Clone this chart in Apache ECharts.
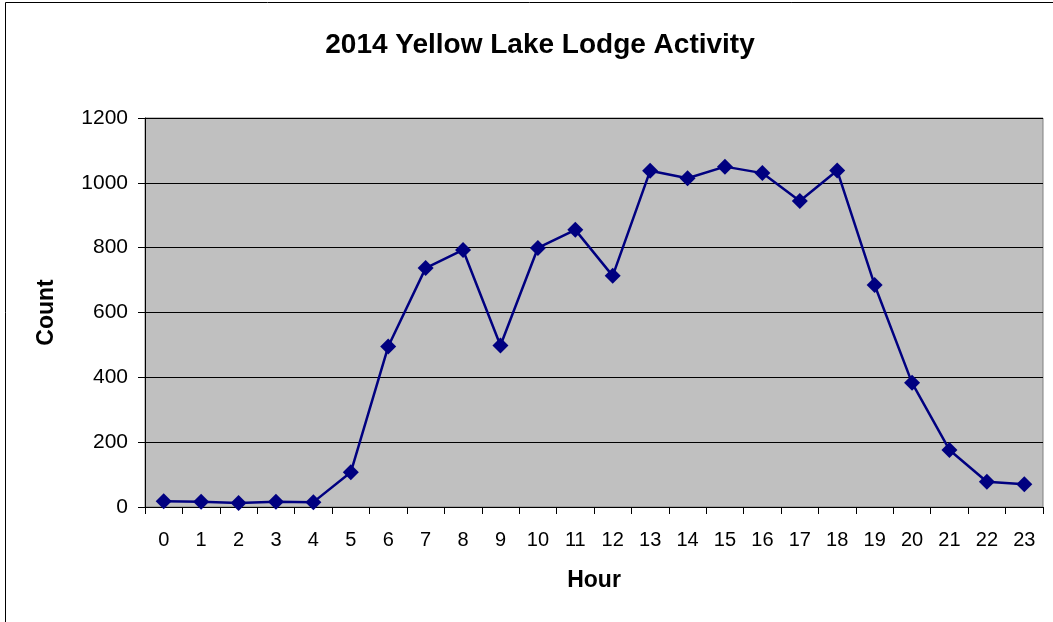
<!DOCTYPE html>
<html>
<head>
<meta charset="utf-8">
<script src="https://cdn.jsdelivr.net/npm/echarts@6/dist/echarts.min.js"></script>
<style>
  html, body { margin: 0; padding: 0; background: #fff; }
  #chart { width: 1053px; height: 622px; }
</style>
</head>
<body>
<div id="chart"></div>
<script>
// hours of the day
const hours = ["0","1","2","3","4","5","6","7","8","9","10","11","12","13","14","15","16","17","18","19","20","21","22","23"];
// activity count per hour
const counts = [18, 16, 12, 16, 15, 107, 495, 737, 793, 498, 799, 855, 713, 1037, 1014, 1050, 1030, 944, 1038, 685, 383, 176, 78, 70];
const yTicks = [0, 200, 400, 600, 800, 1000, 1200];

const font = "Liberation Sans, Arial, sans-serif";
const myChart = echarts.init(document.getElementById("chart"));

let option = {
  animation: false,
  title: {
    text: "2014 Yellow Lake Lodge Activity",
    left: 535,
    textAlign: "center",
    top: 26,
    textStyle: { fontFamily: font, fontSize: 28, fontWeight: "bold", color: "#000" },
  },
  graphic: [
    {
      type: "rect",
      shape: { x: 5.5, y: 2.5, width: 1100, height: 700 },
      style: { fill: "none", stroke: "#000", lineWidth: 1 },
      silent: true,
    },
  ],
  grid: {
    left: 145,
    top: 118,
    width: 898,
    height: 389,
    show: true,
    backgroundColor: "#c0c0c0",
    borderColor: "#808080",
    borderWidth: 1,
  },
  xAxis: {
    type: "category",
    data: hours,
    boundaryGap: true,
    name: "Hour",
    nameLocation: "middle",
    nameGap: 62,
    nameTextStyle: { fontFamily: font, fontSize: 23, fontWeight: "bold", color: "#000" },
    axisLine: { show: true, lineStyle: { color: "#000", width: 1 } },
    axisTick: { show: true, alignWithLabel: false, length: 7, lineStyle: { color: "#000" } },
    axisLabel: { fontFamily: font, fontSize: 20, color: "#000", margin: 23, interval: 0 },
    splitLine: { show: false },
  },
  yAxis: {
    type: "value",
    min: 0,
    max: 1200,
    interval: 200,
    name: "Count",
    nameLocation: "middle",
    nameGap: 87,
    nameRotate: 90,
    nameTextStyle: { fontFamily: font, fontSize: 23, fontWeight: "bold", color: "#000" },
    axisLine: { show: true, lineStyle: { color: "#000", width: 1 } },
    axisTick: { show: true, length: 7, lineStyle: { color: "#000" } },
    axisLabel: {
      fontFamily: font,
      fontSize: 21,
      color: "#000",
      margin: 17,
      formatter: (v) => (yTicks.indexOf(v) >= 0 ? String(v) : ""),
    },
    splitLine: { show: true, lineStyle: { color: "#000", width: 1 } },
  },
  series: [
    {
      type: "line",
      data: counts,
      symbol: "diamond",
      symbolSize: [16, 16],
      showSymbol: true,
      lineStyle: { color: "#000080", width: 2.5 },
      itemStyle: { color: "#000080", borderWidth: 0 },
    },
  ],
};
myChart.setOption(option);
</script>
</body>
</html>
